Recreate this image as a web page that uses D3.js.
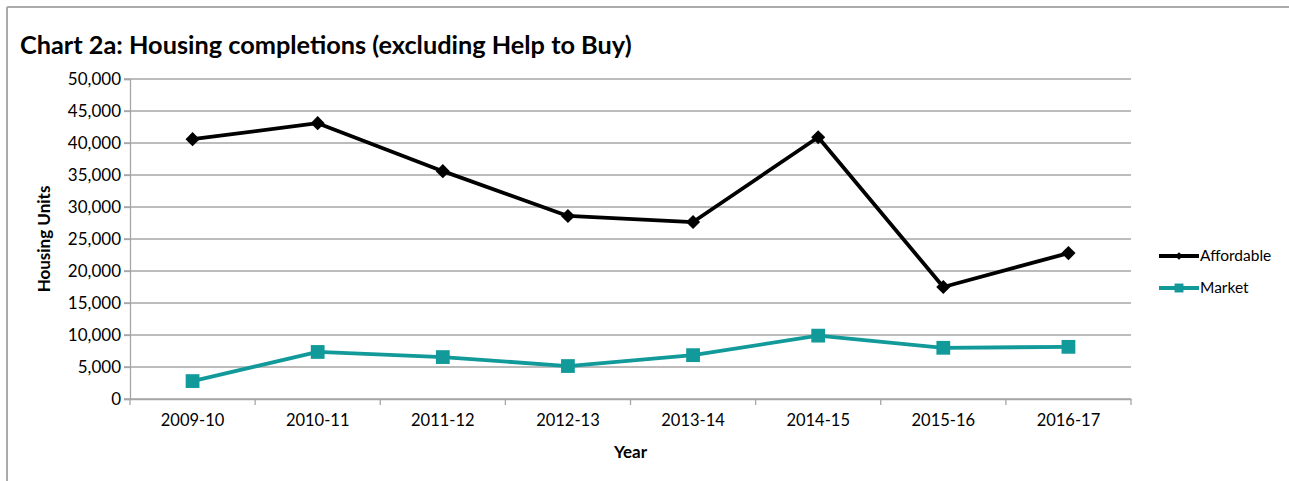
<!DOCTYPE html>
<html>
<head>
<meta charset="utf-8">
<script src="https://cdn.jsdelivr.net/npm/d3@7"></script>
<style>
  body { margin: 0; background: #fff; }
  #chart { width: 1289px; height: 481px; }
  text { font-family: Lato, "Open Sans", sans-serif; fill: #000; }
</style>
</head>
<body>
<div id="chart"></div>
<script>
// Data
const years = ['2009-10', '2010-11', '2011-12', '2012-13', '2013-14', '2014-15', '2015-16', '2016-17'];
const affordable = [40600, 43100, 35600, 28600, 27650, 40900, 17500, 22800];
const market = [2800, 7350, 6550, 5150, 6850, 9900, 8000, 8150];
const yTicks = [0, 5000, 10000, 15000, 20000, 25000, 30000, 35000, 40000, 45000, 50000];

const width = 1289;
const height = 481;
const plot = { left: 130, right: 1131, top: 79, bottom: 399 };

const svg = d3.select("#chart").append("svg")
  .attr("width", width)
  .attr("height", height);

// outer frame (top and left edges only are visible)
svg.append("line").attr("x1", 7).attr("x2", width).attr("y1", 7).attr("y2", 7)
  .attr("stroke", "#ababab").attr("stroke-width", 2);
svg.append("line").attr("x1", 7).attr("x2", 7).attr("y1", 7).attr("y2", height)
  .attr("stroke", "#ababab").attr("stroke-width", 2);

// title
svg.append("text")
  .attr("x", 20)
  .attr("y", 54)
  .attr("font-size", "25.3px")
  .attr("font-weight", "bold")
  .text("Chart 2a: Housing completions (excluding Help to Buy)");

const x = d3.scaleBand()
  .domain(years)
  .range([plot.left, plot.right]);

const y = d3.scaleLinear()
  .domain([0, 50000])
  .range([plot.bottom, plot.top]);

// gridlines
svg.append("g")
  .selectAll("line")
  .data(yTicks)
  .join("line")
  .attr("x1", plot.left - 6)
  .attr("x2", plot.right)
  .attr("y1", d => y(d))
  .attr("y2", d => y(d))
  .attr("stroke", "#a6a6a6")
  .attr("stroke-width", 1.3);

// Y axis
const yAxis = svg.append("g")
  .attr("transform", `translate(${plot.left}, 0)`)
  .call(d3.axisLeft(y).tickValues(yTicks).tickFormat(d3.format(",")).tickSize(6).tickPadding(3));
yAxis.select(".domain").attr("stroke", "#a6a6a6").attr("stroke-width", 1.3);
yAxis.selectAll(".tick line").attr("stroke", "#a6a6a6").attr("stroke-width", 1.3);
yAxis.selectAll("text").attr("font-size", "17px").attr("font-family", "Lato, sans-serif");

// X axis
const xAxis = svg.append("g")
  .attr("transform", `translate(0, ${plot.bottom})`)
  .call(d3.axisBottom(x).tickSize(0).tickPadding(15));
xAxis.select(".domain").attr("stroke", "#a6a6a6").attr("stroke-width", 1.3);
xAxis.selectAll("text").attr("font-size", "16.5px").attr("font-family", "Lato, sans-serif");

// band boundary ticks
svg.append("g")
  .selectAll("line")
  .data(years)
  .join("line")
  .attr("x1", d => x(d) + x.bandwidth())
  .attr("x2", d => x(d) + x.bandwidth())
  .attr("y1", plot.bottom)
  .attr("y2", plot.bottom + 6)
  .attr("stroke", "#a6a6a6")
  .attr("stroke-width", 1.3);
svg.append("line")
  .attr("x1", plot.left).attr("x2", plot.left)
  .attr("y1", plot.bottom).attr("y2", plot.bottom + 6)
  .attr("stroke", "#a6a6a6").attr("stroke-width", 1.3);

// axis titles
svg.append("text")
  .attr("transform", `translate(50, ${(plot.top + plot.bottom) / 2}) rotate(-90)`)
  .attr("text-anchor", "middle")
  .attr("font-size", "17px")
  .attr("font-weight", "bold")
  .text("Housing Units");

svg.append("text")
  .attr("x", (plot.left + plot.right) / 2)
  .attr("y", 458)
  .attr("text-anchor", "middle")
  .attr("font-size", "17px")
  .attr("font-weight", "bold")
  .text("Year");

const series = [
  { name: "Affordable", values: affordable, color: "#000000", size: 100, rotate: 45, legendSize: 30 },
  { name: "Market", values: market, color: "#129a9a", size: 190, rotate: 0, legendSize: 80 }
];

const line = d3.line()
  .x((d, i) => x(years[i]) + x.bandwidth() / 2)
  .y(d => y(d));

series.forEach(s => {
  svg.append("path")
    .datum(s.values)
    .attr("fill", "none")
    .attr("stroke", s.color)
    .attr("stroke-width", 3.8)
    .attr("stroke-linejoin", "round")
    .attr("d", line);

  svg.append("g")
    .selectAll("path")
    .data(s.values)
    .join("path")
    .attr("transform", (d, i) => `translate(${x(years[i]) + x.bandwidth() / 2}, ${y(d)}) rotate(${s.rotate})`)
    .attr("d", d3.symbol().type(d3.symbolSquare).size(s.size))
    .attr("fill", s.color);
});

// Legend
const legend = svg.append("g")
  .selectAll("g")
  .data(series)
  .join("g")
  .attr("transform", (d, i) => `translate(1159, ${256 + i * 32})`);

legend.append("line")
  .attr("x1", 0).attr("x2", 40)
  .attr("stroke", d => d.color)
  .attr("stroke-width", 3.8);

legend.append("path")
  .attr("transform", d => `translate(20, 0) rotate(${d.rotate})`)
  .attr("d", d => d3.symbol().type(d3.symbolSquare).size(d.legendSize)())
  .attr("fill", d => d.color);

legend.append("text")
  .attr("x", 41)
  .attr("dy", "0.35em")
  .attr("font-size", "15.5px")
  .text(d => d.name);
</script>
</body>
</html>
